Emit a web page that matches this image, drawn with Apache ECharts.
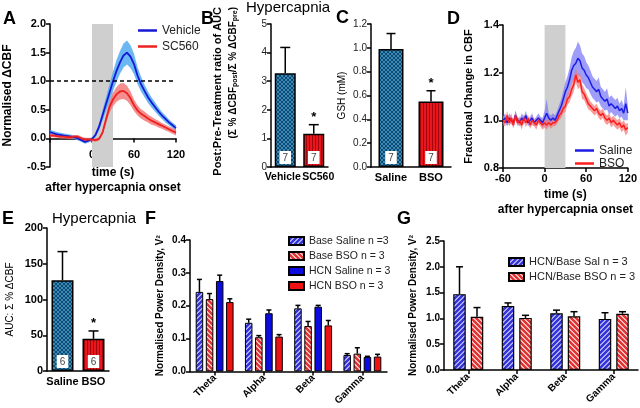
<!DOCTYPE html>
<html><head><meta charset="utf-8">
<script src="https://cdn.jsdelivr.net/npm/echarts@6/dist/echarts.min.js"></script>
<style>html,body{margin:0;padding:0;background:#fff}#c{width:640px;height:408px}</style>
</head><body><div id="c"></div><script>
const FONT = '"Liberation Sans", Arial, Helvetica, sans-serif';

// ---------- Panel A ----------
const timeA = [-60,-55,-50,-45,-40,-35,-30,-25,-20,-15,-10,-5,0,5,10,15,20,25,30,35,40,45,50,55,60,65,70,75,80,85,90,95,100,105,110,115,120];
const vehicleA = [0.11,0.09,0.07,0.06,0.05,0.04,0.03,0.02,0.0,-0.03,-0.06,-0.04,-0.01,0.06,0.2,0.4,0.6,0.8,1.0,1.18,1.33,1.45,1.5,1.43,1.3,1.1,0.95,0.83,0.72,0.63,0.55,0.47,0.4,0.34,0.28,0.23,0.18];
const vehicleSemA = [0.04,0.04,0.04,0.04,0.035,0.035,0.035,0.035,0.035,0.035,0.035,0.03,0.03,0.04,0.06,0.09,0.12,0.15,0.17,0.19,0.2,0.21,0.21,0.2,0.18,0.15,0.13,0.11,0.1,0.09,0.08,0.07,0.06,0.06,0.05,0.05,0.05];
const sc560A = [0.05,0.05,0.04,0.03,0.03,0.02,0.02,0.03,0.03,0.0,-0.02,-0.02,-0.02,-0.03,-0.01,0.1,0.33,0.55,0.68,0.77,0.82,0.83,0.79,0.7,0.58,0.49,0.43,0.39,0.35,0.31,0.28,0.25,0.22,0.19,0.16,0.13,0.1];
const sc560SemA = [0.03,0.03,0.03,0.03,0.03,0.03,0.03,0.03,0.03,0.03,0.03,0.03,0.03,0.03,0.03,0.04,0.07,0.1,0.12,0.13,0.14,0.14,0.13,0.12,0.1,0.09,0.08,0.08,0.07,0.07,0.06,0.06,0.05,0.05,0.05,0.05,0.05];
const stimA = [0, 30];

// ---------- Panel B ----------
const catsB = ['Vehicle', 'SC560'];
const ratioB = [3.28, 1.16];
const ratioErrB = [0.9, 0.32];
const nB = [7, 7];
const starB = [false, true];

// ---------- Panel C ----------
const catsC = ['Saline', 'BSO'];
const gshC = [0.99, 0.55];
const gshErrC = [0.13, 0.09];
const nC = [7, 7];
const starC = [false, true];

// ---------- Panel D ----------
const timeD = [-60,-57,-54,-51,-48,-45,-42,-39,-36,-33,-30,-27,-24,-21,-18,-15,-12,-9,-6,-3,0,3,6,9,12,15,18,21,24,27,30,33,36,39,42,45,48,51,54,57,60,63,66,69,72,75,78,81,84,87,90,93,96,99,102,105,108,111,114,117,120];
const salineD = [1.00,1.01,0.99,1.01,1.00,0.99,1.02,1.00,0.99,1.01,1.00,1.02,0.99,1.00,1.01,0.99,1.00,1.01,1.00,0.99,
  1.01,1.03,1.01,1.00,1.01,1.00,1.02,1.04,1.06,1.09,1.12,1.14,1.17,1.21,1.23,1.24,1.26,1.25,1.22,1.21,1.19,1.18,1.16,1.14,1.13,1.12,1.13,1.10,1.09,1.08,1.09,1.06,1.07,1.06,1.05,1.06,1.04,1.05,1.03,1.07,1.03];
const salineSemD = [0.015,0.02,0.015,0.02,0.015,0.015,0.02,0.015,0.015,0.02,0.015,0.02,0.015,0.015,0.02,0.015,0.015,0.02,0.015,0.02,
  0.03,0.06,0.02,0.02,0.02,0.02,0.02,0.025,0.03,0.035,0.04,0.045,0.05,0.055,0.06,0.065,0.07,0.065,0.06,0.06,0.055,0.05,0.05,0.045,0.045,0.045,0.05,0.04,0.04,0.04,0.045,0.035,0.035,0.035,0.035,0.035,0.03,0.035,0.03,0.07,0.03];
const bsoD = [1.00,0.99,1.02,0.99,1.01,0.98,1.02,0.99,1.00,0.98,1.01,0.99,1.01,0.98,1.00,0.99,0.98,1.00,0.99,0.98,
  0.99,0.98,0.99,0.98,0.99,0.99,1.00,1.02,1.03,1.05,1.06,1.09,1.10,1.13,1.15,1.19,1.16,1.17,1.12,1.11,1.09,1.07,1.06,1.05,1.04,1.05,1.03,1.02,1.03,1.01,1.00,1.01,0.99,1.00,0.99,0.98,0.99,0.97,0.98,0.96,0.97];
const bsoSemD = [0.02,0.015,0.02,0.015,0.02,0.015,0.02,0.015,0.015,0.02,0.015,0.02,0.015,0.015,0.02,0.015,0.02,0.015,0.015,0.02,
  0.02,0.02,0.015,0.015,0.015,0.015,0.015,0.02,0.02,0.02,0.025,0.025,0.025,0.03,0.03,0.03,0.03,0.03,0.03,0.025,0.025,0.025,0.02,0.02,0.02,0.02,0.02,0.02,0.02,0.02,0.02,0.02,0.02,0.02,0.02,0.02,0.02,0.02,0.02,0.025,0.02];
const stimD = [0, 30];

// ---------- Panel E ----------
const catsE = ['Saline', 'BSO'];
const aucE = [127, 45];
const aucErrE = [40, 11];
const nE = [6, 6];
const starE = [false, true];

// ---------- Panels F & G ----------
const bandsFG = ['Theta', 'Alpha', 'Beta', 'Gamma'];
const baseSalF = [0.242, 0.148, 0.192, 0.050];
const baseSalErrF = [0.038, 0.011, 0.009, 0.004];
const baseBsoF = [0.220, 0.104, 0.138, 0.054];
const baseBsoErrF = [0.017, 0.005, 0.014, 0.018];
const hcnSalF = [0.275, 0.177, 0.197, 0.044];
const hcnSalErrF = [0.018, 0.010, 0.004, 0.002];
const hcnBsoF = [0.211, 0.106, 0.140, 0.045];
const hcnBsoErrF = [0.010, 0.006, 0.015, 0.007];
const salRatioG = [1.47, 1.24, 1.10, 0.99];
const salRatioErrG = [0.53, 0.06, 0.06, 0.12];
const bsoRatioG = [1.03, 1.01, 1.04, 1.09];
const bsoRatioErrG = [0.18, 0.05, 0.09, 0.04];

// ---------- patterns ----------
function pattern(kind) {
  const c = document.createElement('canvas');
  const g = c.getContext('2d');
  if (kind === 'mesh') {
    c.width = c.height = 4;
    g.fillStyle = '#3a8bbb'; g.fillRect(0, 0, 4, 4);
    g.fillStyle = '#0f4a6e';
    for (let i = 0; i < 4; i++) { g.fillRect(i, i, 1, 1); g.fillRect(3 - i, i, 1, 1); }
  } else if (kind === 'vstripe') {
    c.width = 3; c.height = 3;
    g.fillStyle = '#ea161e'; g.fillRect(0, 0, 3, 3);
    g.fillStyle = '#a0060c'; g.fillRect(0, 0, 1, 3);
  } else if (kind === 'blueHatch') {
    c.width = c.height = 5;
    g.fillStyle = '#3434d8'; g.fillRect(0, 0, 5, 5);
    g.fillStyle = '#a9a9f5';
    for (let i = 0; i < 5; i++) { g.fillRect(i, 4 - i, 1, 1); g.fillRect((i + 1) % 5, 4 - i, 1, 1); }
  } else if (kind === 'redHatch') {
    c.width = c.height = 5;
    g.fillStyle = '#e23434'; g.fillRect(0, 0, 5, 5);
    g.fillStyle = '#f7bcbc';
    for (let i = 0; i < 5; i++) { g.fillRect(i, i, 1, 1); g.fillRect((i + 1) % 5, i, 1, 1); }
  }
  return { image: c, repeat: 'repeat' };
}
const PAT = { mesh: pattern('mesh'), vstripe: pattern('vstripe'), blueHatch: pattern('blueHatch'), redHatch: pattern('redHatch') };

// ---------- helpers ----------
function valAxis(gi, min, max, interval, o) {
  o = o || {};
  return {
    type: 'value', gridIndex: gi, min: min, max: max, interval: interval, offset: o.offset || 0,
    axisLine: { show: true, onZero: false, lineStyle: { color: '#000', width: 1.5 } },
    axisTick: { show: true, length: 4, lineStyle: { color: '#000', width: 1.5 } },
    splitLine: { show: false },
    axisLabel: { color: o.lc || '#000', fontFamily: FONT, fontSize: o.fs || 11, fontWeight: o.fw || 'bold', margin: o.margin || 4, formatter: o.fmt },
    name: o.name, nameLocation: 'middle', nameGap: o.nameGap || 20,
    nameTextStyle: { fontFamily: FONT, fontSize: o.nfs || 11, fontWeight: o.nfw || 'bold', color: '#000', lineHeight: o.nlh || 14 }
  };
}
function catAxis(gi, data, o) {
  o = o || {};
  return {
    type: 'category', gridIndex: gi, data: data,
    axisLine: { show: true, lineStyle: { color: '#000', width: 1.5 } },
    axisTick: { show: !!o.ticks, alignWithLabel: true, length: 4, lineStyle: { color: '#000', width: 1.5 } },
    axisLabel: Object.assign({ color: '#000', fontFamily: FONT, fontSize: o.fs || 11, fontWeight: 'bold', rotate: o.rotate || 0, margin: o.margin || 5, interval: 0 }, o.label || {})
  };
}
function bandPoly(xi, times, mean, sem, color) {
  return {
    type: 'custom', xAxisIndex: xi, yAxisIndex: xi, silent: true, z: 2,
    data: times.map((t, i) => [t, mean[i] - sem[i], mean[i] + sem[i]]),
    encode: { x: 0, y: [1, 2] },
    renderItem: function (params, api) {
      if (params.dataIndex !== 0) return null;
      const up = times.map((t, i) => api.coord([t, mean[i] + sem[i]]));
      const dn = times.map((t, i) => api.coord([t, mean[i] - sem[i]])).reverse();
      return { type: 'polygon', shape: { points: up.concat(dn) }, style: { fill: color } };
    }
  };
}
function meanLine(name, xi, times, mean, color, extra) {
  return Object.assign({ type: 'line', name: name, xAxisIndex: xi, yAxisIndex: xi, symbol: 'none', color: color, z: 3,
    lineStyle: { color: color, width: 1.8 }, data: times.map((t, i) => [t, mean[i]]) }, extra || {});
}
function errBars(xi, means, errs, offset, cap, stars) {
  return {
    type: 'custom', xAxisIndex: xi, yAxisIndex: xi, z: 4, silent: true,
    data: means.map((m, i) => [i, m, +(m + errs[i]).toFixed(4)]),
    encode: { x: 0, y: [1, 2] },
    renderItem: function (params, api) {
      const i = api.value(0);
      const p0 = api.coord([i, api.value(1)]);
      const p1 = api.coord([i, api.value(2)]);
      const x = p0[0] + offset;
      const ch = [
        { type: 'line', shape: { x1: x, y1: p0[1], x2: x, y2: p1[1] }, style: { stroke: '#000', lineWidth: 1.5 } },
        { type: 'line', shape: { x1: x - cap / 2, y1: p1[1], x2: x + cap / 2, y2: p1[1] }, style: { stroke: '#000', lineWidth: 1.5 } }
      ];
      if (stars && stars[params.dataIndex]) {
        ch.push({ type: 'text', style: { text: '*', x: x, y: p1[1] - 1, align: 'center', verticalAlign: 'bottom', textAlign: 'center', textVerticalAlign: 'bottom', fontSize: 13, fontWeight: 'bold', fontFamily: FONT, fill: '#000' } });
      }
      return { type: 'group', children: ch };
    }
  };
}
function nLabel(arr) {
  return { show: true, position: 'insideBottom', distance: 3, formatter: p => String(arr[p.dataIndex]),
    backgroundColor: '#fff', padding: [2, 3, 1, 3], fontSize: 10, color: '#444', fontFamily: FONT };
}
function twoBars(xi, vals, n, width) {
  return { type: 'bar', name: 'bars' + xi, xAxisIndex: xi, yAxisIndex: xi, barWidth: width,
    itemStyle: { borderColor: '#000', borderWidth: 1.5 },
    data: vals.map((v, i) => ({ value: v, itemStyle: { color: i === 0 ? PAT.mesh : PAT.vstripe } })),
    label: nLabel(n) };
}
function groupOffsets(n, w, gap) {
  const total = n * w + (n - 1) * gap * w;
  const out = [];
  for (let i = 0; i < n; i++) out.push(-total / 2 + i * w * (1 + gap) + w / 2);
  return out;
}
function txt(x, y, text, size, weight) {
  return { type: 'text', x: x, y: y, silent: true,
    style: { text: text, fontSize: size, fontWeight: weight, fontFamily: FONT, fill: '#000',
      align: 'left', verticalAlign: 'top', textAlign: 'left', textVerticalAlign: 'top' } };
}

const fW = 7.5, fGap = 0.35, offF = groupOffsets(4, fW, fGap);
const gW = 12.5, gGap = 0.4, offG = groupOffsets(2, gW, gGap);
const f1 = v => v.toFixed(1);
const lblFont = { fontFamily: FONT, fontSize: 10.5, fontWeight: 'bold', color: '#000' };

const option = {
  animation: false,
  backgroundColor: '#fff',
  textStyle: { fontFamily: FONT },
  grid: [
    { left: 47, top: 24, width: 129, height: 143 },
    { left: 271, top: 24, width: 57, height: 143 },
    { left: 371, top: 24, width: 80, height: 143 },
    { left: 503, top: 25, width: 127, height: 143 },
    { left: 47, top: 228, width: 62, height: 143 },
    { left: 190, top: 240, width: 197, height: 132 },
    { left: 444, top: 241, width: 194, height: 129 }
  ],
  xAxis: [
    valAxis(0, -60, 120, 60, { offset: -28.6, fmt: v => (v === -60 ? '' : String(v)), name: 'time (s)\nafter hypercapnia onset', nameGap: 27, nfs: 12, nlh: 15, margin: 11 }),
    catAxis(1, catsB, { label: { formatter: (v, i) => (i === 0 ? '{a|' + v + '}' : '{b|' + v + '}'), rich: { a: Object.assign({ padding: [0, 5, 0, 0] }, lblFont), b: Object.assign({ padding: [0, 0, 0, 9] }, lblFont) } } }),
    catAxis(2, catsC, { fs: 11 }),
    valAxis(3, -60, 120, 60, { name: 'time (s)\nafter hypercapnia onset', nameGap: 19, nfs: 12, nlh: 15, margin: 5 }),
    catAxis(4, catsE, { fs: 11 }),
    catAxis(5, bandsFG, { fs: 10, rotate: 45, ticks: true, margin: 5 }),
    catAxis(6, bandsFG, { fs: 10, rotate: 45, ticks: true, margin: 5 })
  ],
  yAxis: [
    valAxis(0, -0.5, 2.0, 0.5, { fmt: f1, name: 'Normalised \u0394CBF', nameGap: 35, nfs: 12 }),
    valAxis(1, 0, 5, 1, { fs: 10, fw: 'normal', lc: '#222' }),
    valAxis(2, 0, 1.2, 0.2, { fmt: f1, fs: 10, fw: 'normal', lc: '#222', name: 'GSH (mM)', nameGap: 19, nfs: 10, nfw: 'normal' }),
    valAxis(3, 0.8, 1.4, 0.2, { fmt: f1, name: 'Fractional Change in CBF', nameGap: 27, nfs: 11 }),
    valAxis(4, 0, 200, 50, { fs: 11, name: 'AUC: \u03A3 % \u0394CBF', nameGap: 30, nfs: 10, nfw: 'normal' }),
    valAxis(5, 0, 0.4, 0.1, { fmt: f1, fs: 10, name: 'Normalised Power Density, V\u00B2', nameGap: 23, nfs: 10 }),
    valAxis(6, 0, 2.5, 0.5, { fmt: f1, fs: 10, name: 'Normalised Power Density, V\u00B2', nameGap: 24, nfs: 10 })
  ],
  legend: [
    { data: ['Vehicle', 'SC560'], left: 133, top: 19, orient: 'vertical', icon: 'rect', itemWidth: 19, itemHeight: 2.5, itemGap: 3, selectedMode: false,
      textStyle: { fontFamily: FONT, fontSize: 12, color: '#222', lineHeight: 13 } },
    { data: ['Saline', 'BSO'], left: 570, top: 139, orient: 'vertical', icon: 'rect', itemWidth: 19, itemHeight: 2.5, itemGap: 0, selectedMode: false,
      textStyle: { fontFamily: FONT, fontSize: 12, color: '#222', lineHeight: 13 } },
    { data: ['Base Saline n =3', 'Base BSO n = 3', 'HCN Saline n = 3', 'HCN BSO n = 3'], left: 283, top: 230, orient: 'vertical', icon: 'rect',
      itemWidth: 15, itemHeight: 8, itemGap: 3, selectedMode: false, textStyle: { fontFamily: FONT, fontSize: 10.5, color: '#222', lineHeight: 12 } },
    { data: ['HCN/Base Sal n = 3', 'HCN/Base BSO n = 3'], left: 503, top: 251, orient: 'vertical', icon: 'rect',
      itemWidth: 15, itemHeight: 8, itemGap: 3, selectedMode: false, textStyle: { fontFamily: FONT, fontSize: 11, color: '#222', lineHeight: 12 } }
  ],
  series: [
    // A
    bandPoly(0, timeA, vehicleA, vehicleSemA, 'rgba(80,170,242,0.85)'),
    bandPoly(0, timeA, sc560A, sc560SemA, 'rgba(242,105,105,0.75)'),
    meanLine('Vehicle', 0, timeA, vehicleA, '#1717d6', {
      markArea: { silent: true, itemStyle: { color: '#cfcfcf' }, data: [[{ xAxis: stimA[0] }, { xAxis: stimA[1] }]] } }),
    meanLine('SC560', 0, timeA, sc560A, '#ee2020', {
      markLine: { silent: true, symbol: 'none', label: { show: false }, lineStyle: { color: '#000', type: [4, 3], width: 1.5 }, data: [{ yAxis: 1 }] } }),
    // B
    twoBars(1, ratioB, nB, 21),
    errBars(1, ratioB, ratioErrB, 0, 10, starB),
    // C
    twoBars(2, gshC, nC, 25),
    errBars(2, gshC, gshErrC, 0, 9, starC),
    // D
    bandPoly(3, timeD, salineD, salineSemD, 'rgba(125,125,245,0.75)'),
    bandPoly(3, timeD, bsoD, bsoSemD, 'rgba(245,115,115,0.7)'),
    meanLine('Saline', 3, timeD, salineD, '#1c1ce6', { lineStyle: { color: '#1c1ce6', width: 1.5 },
      markArea: { silent: true, itemStyle: { color: '#cfcfcf' }, data: [[{ xAxis: stimD[0] }, { xAxis: stimD[1] }]] } }),
    meanLine('BSO', 3, timeD, bsoD, '#ff1e1e', { lineStyle: { color: '#ff1e1e', width: 1.5 } }),
    // E
    twoBars(4, aucE, nE, 22),
    errBars(4, aucE, aucErrE, 0, 10, starE),
    // F
    { type: 'bar', name: 'Base Saline n =3', xAxisIndex: 5, yAxisIndex: 5, barWidth: fW, barGap: '35%', data: baseSalF, itemStyle: { color: PAT.blueHatch, borderColor: '#000', borderWidth: 1 } },
    { type: 'bar', name: 'Base BSO n = 3', xAxisIndex: 5, yAxisIndex: 5, barWidth: fW, barGap: '35%', data: baseBsoF, itemStyle: { color: PAT.redHatch, borderColor: '#000', borderWidth: 1 } },
    { type: 'bar', name: 'HCN Saline n = 3', xAxisIndex: 5, yAxisIndex: 5, barWidth: fW, barGap: '35%', data: hcnSalF, itemStyle: { color: '#0c0ce0', borderColor: '#000', borderWidth: 1 } },
    { type: 'bar', name: 'HCN BSO n = 3', xAxisIndex: 5, yAxisIndex: 5, barWidth: fW, barGap: '35%', data: hcnBsoF, itemStyle: { color: '#ee1212', borderColor: '#000', borderWidth: 1 } },
    errBars(5, baseSalF, baseSalErrF, offF[0], 5),
    errBars(5, baseBsoF, baseBsoErrF, offF[1], 5),
    errBars(5, hcnSalF, hcnSalErrF, offF[2], 5),
    errBars(5, hcnBsoF, hcnBsoErrF, offF[3], 5),
    // G
    { type: 'bar', name: 'HCN/Base Sal n = 3', xAxisIndex: 6, yAxisIndex: 6, barWidth: gW, barGap: '40%', data: salRatioG, itemStyle: { color: PAT.blueHatch, borderColor: '#000', borderWidth: 1.2 } },
    { type: 'bar', name: 'HCN/Base BSO n = 3', xAxisIndex: 6, yAxisIndex: 6, barWidth: gW, barGap: '40%', data: bsoRatioG, itemStyle: { color: PAT.redHatch, borderColor: '#000', borderWidth: 1.2 } },
    errBars(6, salRatioG, salRatioErrG, offG[0], 7),
    errBars(6, bsoRatioG, bsoRatioErrG, offG[1], 7)
  ],
  graphic: { elements: [
    txt(3, 10, 'A', 18, 'bold'),
    txt(201, 10, 'B', 18, 'bold'),
    txt(336, 9, 'C', 18, 'bold'),
    txt(447, 10, 'D', 18, 'bold'),
    txt(2, 210, 'E', 18, 'bold'),
    txt(145, 210, 'F', 18, 'bold'),
    txt(397, 210, 'G', 18, 'bold'),
    txt(246, 0, 'Hypercapnia', 15, 'normal'),
    txt(52, 211, 'Hypercapnia', 15, 'normal'),
    { type: 'text', x: 218, y: 7, rotation: Math.PI / 2, silent: true,
      style: { text: 'Post:Pre-Treatment ratio of AUC', fontSize: 11, fontWeight: 'bold', fontFamily: FONT, fill: '#000',
        align: 'right', verticalAlign: 'middle', textAlign: 'right', textVerticalAlign: 'middle' } },
    { type: 'text', x: 233, y: 7, rotation: Math.PI / 2, silent: true,
      style: { text: '(\u03A3 % \u0394CBF{s|post}/\u03A3 % \u0394CBF{s|pre})', fontSize: 10, fontWeight: 'bold', fontFamily: FONT, fill: '#000',
        align: 'right', verticalAlign: 'middle', textAlign: 'right', textVerticalAlign: 'middle',
        rich: { s: { fontSize: 7, fontWeight: 'bold', fontFamily: FONT, fill: '#000', padding: [5, 0, 0, 0] } } } }
  ] }
};
const chart = echarts.init(document.getElementById('c'), null, { renderer: 'canvas' });
chart.setOption(option);
</script></body></html>
